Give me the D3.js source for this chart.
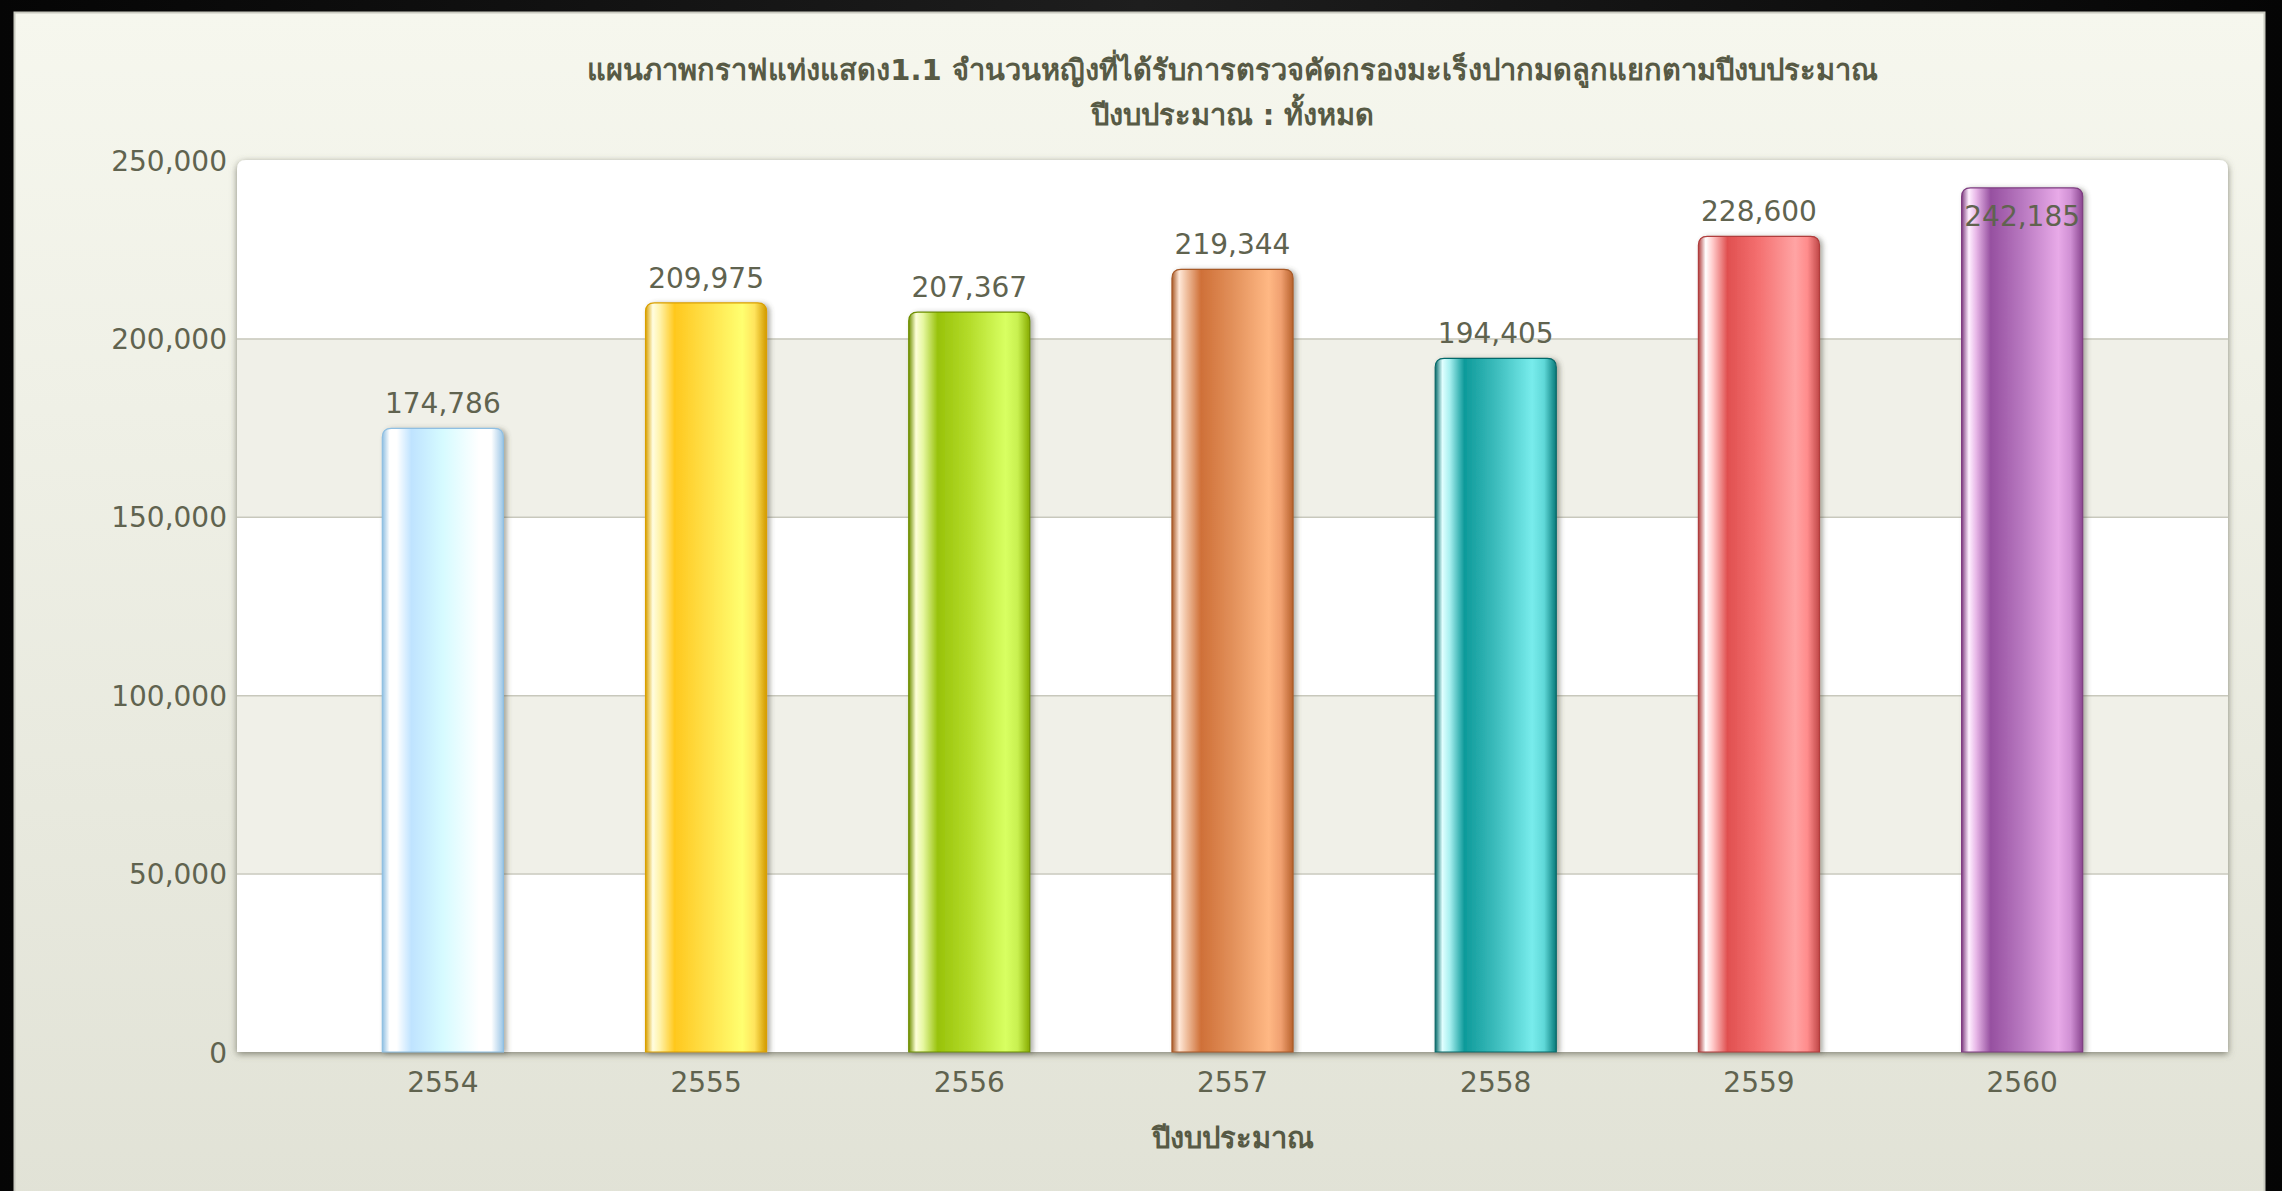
<!DOCTYPE html>
<html>
<head>
<meta charset="utf-8">
<script src="https://cdn.jsdelivr.net/npm/d3@7"></script>
<style>
  html, body { margin: 0; padding: 0; background: #1b1b1b; }
  svg { display: block; }
  text { font-family: "DejaVu Sans", Verdana, sans-serif; }
</style>
</head>
<body>
<svg id="chart" width="2282" height="1191"></svg>
<script>
// ---- data ----
const categories = ["2554", "2555", "2556", "2557", "2558", "2559", "2560"];
const values = [174786, 209975, 207367, 219344, 194405, 228600, 242185];
const yTicks = [0, 50000, 100000, 150000, 200000, 250000];
const titleLine1 = "แผนภาพกราฟแท่งแสดง1.1 จำนวนหญิงที่ได้รับการตรวจคัดกรองมะเร็งปากมดลูกแยกตามปีงบประมาณ";
const titleLine2 = "ปีงบประมาณ : ทั้งหมด";
const xAxisTitle = "ปีงบประมาณ";

// ---- style: gradient stops for each bar ----
const barGradients = [
  ["#8fbfe2", "#ffffff", "#ffffff", "#bfe3ff", "#d6fbff", "#ffffff", "#ffffff", "#9cc6e6"],
  ["#d9a000", "#fffde0", "#fff2a8", "#ffc81e", "#ffe048", "#ffff70", "#ffe45c", "#d29a00"],
  ["#6f9000", "#fdffd8", "#e6f7a0", "#98c20a", "#b4dc2a", "#d8ff62", "#c8f050", "#86aa00"],
  ["#a85a28", "#ffe8d8", "#f0c0a0", "#cf7038", "#e2905a", "#ffb884", "#f0a070", "#b8622e"],
  ["#066a6a", "#e0ffff", "#a8f0f0", "#0e9a9a", "#3cbcbc", "#78ecec", "#60d8d8", "#087a7a"],
  ["#b03c3c", "#ffffff", "#ffc8c8", "#e05050", "#f47070", "#ffa4a4", "#ff8c8c", "#c04848"],
  ["#7e3c80", "#fff0ff", "#e8b8e8", "#9650a0", "#b878c0", "#e8aae8", "#d090d4", "#8a4690"]
];
const stopOffsets = [0, 0.06, 0.12, 0.24, 0.5, 0.8, 0.9, 1];

// ---- layout ----
const W = 2282, H = 1191;
const plot = { x0: 237, x1: 2228, y0: 160, y1: 1052 };
const textColor = "#60634f";

const svg = d3.select("#chart");
const defs = svg.append("defs");

// panel gradient
const pg = defs.append("linearGradient").attr("id", "panelGrad")
  .attr("x1", 0).attr("y1", 0).attr("x2", 0).attr("y2", 1);
pg.append("stop").attr("offset", 0).attr("stop-color", "#f6f7ee");
pg.append("stop").attr("offset", 1).attr("stop-color", "#e1e2d6");

// frame gradient (dark)
const fg = defs.append("linearGradient").attr("id", "frameGrad")
  .attr("x1", 0).attr("y1", 0).attr("x2", 1).attr("y2", 0);
fg.append("stop").attr("offset", 0).attr("stop-color", "#050505");
fg.append("stop").attr("offset", 0.5).attr("stop-color", "#1e1e1e");
fg.append("stop").attr("offset", 1).attr("stop-color", "#050505");

// shadow filter
const sh = defs.append("filter").attr("id", "plotShadow")
  .attr("x", -0.05).attr("y", -0.05).attr("width", 1.1).attr("height", 1.1);
sh.append("feDropShadow").attr("dx", 0).attr("dy", 2).attr("stdDeviation", 3.5)
  .attr("flood-color", "#606050").attr("flood-opacity", 0.75);

const bsh = defs.append("filter").attr("id", "barShadow")
  .attr("x", -0.2).attr("y", -0.05).attr("width", 1.4).attr("height", 1.1);
bsh.append("feDropShadow").attr("dx", 3).attr("dy", 1).attr("stdDeviation", 2.5)
  .attr("flood-color", "#505040").attr("flood-opacity", 0.45);

barGradients.forEach((stops, i) => {
  const g = defs.append("linearGradient").attr("id", "bar" + i)
    .attr("x1", 0).attr("y1", 0).attr("x2", 1).attr("y2", 0);
  stops.forEach((c, k) => g.append("stop").attr("offset", stopOffsets[k]).attr("stop-color", c));
});

// background frame
svg.append("rect").attr("width", W).attr("height", H).attr("fill", "url(#frameGrad)");
svg.append("rect").attr("x", 14.5).attr("y", 12.5).attr("width", 2250).attr("height", H)
  .attr("fill", "url(#panelGrad)").attr("stroke", "#c9cac0").attr("stroke-width", 2);

// scales
const x = d3.scaleBand().domain(categories).range([plot.x0, plot.x1])
  .paddingInner(0.54).paddingOuter(0.552);
const y = d3.scaleLinear().domain([0, 250000]).range([plot.y1, plot.y0]);

// plot area with rounded top corners
const r = 9;
const pw = plot.x1 - plot.x0, ph = plot.y1 - plot.y0;
const plotPath = `M${plot.x0},${plot.y1} V${plot.y0 + r} Q${plot.x0},${plot.y0} ${plot.x0 + r},${plot.y0} H${plot.x1 - r} Q${plot.x1},${plot.y0} ${plot.x1},${plot.y0 + r} V${plot.y1} Z`;
defs.append("clipPath").attr("id", "plotClip").append("path").attr("d", plotPath);
svg.append("path").attr("d", plotPath).attr("fill", "#ffffff").attr("filter", "url(#plotShadow)");

const bandG = svg.append("g").attr("clip-path", "url(#plotClip)");
for (let i = 0; i < yTicks.length - 1; i++) {
  if (i % 2 === 1) {
    bandG.append("rect").attr("x", plot.x0).attr("width", pw)
      .attr("y", y(yTicks[i + 1])).attr("height", y(yTicks[i]) - y(yTicks[i + 1]))
      .attr("fill", "#f0f0e8");
  }
}

// gridlines
const grid = svg.append("g").attr("transform", `translate(${plot.x0},0)`)
  .call(d3.axisLeft(y).tickValues(yTicks.slice(1, -1)).tickSize(-pw).tickFormat(""));
grid.select(".domain").remove();
grid.selectAll("line").attr("stroke", "#c8c8bc").attr("stroke-width", 1.5);

// y axis labels
const yAx = svg.append("g").attr("transform", `translate(${plot.x0 - 10},0)`)
  .call(d3.axisLeft(y).tickValues(yTicks).tickSize(0).tickPadding(0).tickFormat(d3.format(",")));
yAx.select(".domain").remove();
yAx.selectAll("text").attr("font-size", 28).attr("fill", textColor)
  .attr("font-family", "'DejaVu Sans', Verdana, sans-serif").attr("dy", "0.36em");

// bars
const barPath = (d, i) => {
  const bx = x(categories[i]), bw = x.bandwidth();
  const top = y(d), bot = y(0), rr = 9;
  return `M${bx},${bot} V${top + rr} Q${bx},${top} ${bx + rr},${top} H${bx + bw - rr} Q${bx + bw},${top} ${bx + bw},${top + rr} V${bot} Z`;
};
svg.append("g").selectAll("path.bar").data(values).join("path")
  .attr("class", "bar")
  .attr("d", barPath)
  .attr("fill", (d, i) => `url(#bar${i})`)
  .attr("stroke", (d, i) => barGradients[i][0]).attr("stroke-width", 1.2)
  .attr("filter", "url(#barShadow)");

// value labels
svg.append("g").selectAll("text.val").data(values).join("text")
  .attr("class", "val")
  .attr("x", (d, i) => x(categories[i]) + x.bandwidth() / 2)
  .attr("y", d => {
    const above = y(d) - 25;
    return (above - 16 < plot.y0) ? y(d) + 28 : above;
  })
  .attr("dy", "0.36em")
  .attr("text-anchor", "middle").attr("font-size", 28).attr("fill", textColor)
  .text(d => d3.format(",")(d));

// x axis labels
const xAx = svg.append("g").attr("transform", `translate(0,${plot.y1 + 30})`)
  .call(d3.axisBottom(x).tickSize(0).tickPadding(0));
xAx.select(".domain").remove();
xAx.selectAll("text").attr("font-size", 28).attr("fill", textColor)
  .attr("font-family", "'DejaVu Sans', Verdana, sans-serif").attr("dy", "0.36em");

// titles
const cx = (plot.x0 + plot.x1) / 2;
const thaiFont = "Tahoma, 'Noto Sans Thai', 'Loma', 'Garuda', 'DejaVu Sans', sans-serif";
svg.append("text").attr("x", cx).attr("y", 70).attr("dy", "0.36em")
  .attr("text-anchor", "middle").attr("font-size", 29).attr("font-weight", "bold")
  .attr("font-family", thaiFont).attr("fill", "#575a45").text(titleLine1);
svg.append("text").attr("x", cx).attr("y", 115).attr("dy", "0.36em")
  .attr("text-anchor", "middle").attr("font-size", 29).attr("font-weight", "bold")
  .attr("font-family", thaiFont).attr("fill", "#575a45").text(titleLine2);
svg.append("text").attr("x", cx).attr("y", 1138).attr("dy", "0.36em")
  .attr("text-anchor", "middle").attr("font-size", 29).attr("font-weight", "bold")
  .attr("font-family", thaiFont).attr("fill", "#575a45").text(xAxisTitle);
</script>
</body>
</html>
